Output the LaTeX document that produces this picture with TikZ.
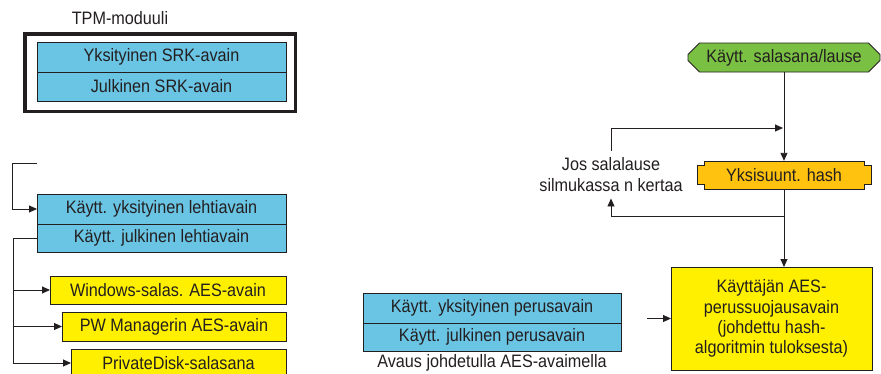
\documentclass[tikz,border=0pt]{standalone}
\usepackage{fontspec}
\setmainfont{Liberation Sans}[FakeStretch=0.9]
\usepackage{tikz}
\usetikzlibrary{positioning}
\usetikzlibrary{calc}
\usetikzlibrary{shapes.misc}
\usetikzlibrary{arrows.meta}
\definecolor{keyblue}{RGB}{106,196,228}
\definecolor{keyyellow}{RGB}{255,240,0}
\definecolor{hashorange}{RGB}{255,194,15}
\definecolor{pwgreen}{RGB}{122,193,67}
\definecolor{edge}{RGB}{35,31,32}
\tikzset{
    keybox/.style={draw=edge, line width=0.9pt, fill=#1, inner sep=0pt, outer sep=0pt},
    arr/.style={-{Triangle[length=8pt,width=7pt]}, draw=edge, line width=0.9pt},
    ln/.style={draw=edge, line width=0.9pt}
}

\begin{document}
\begin{tikzpicture}[x=1pt,y=-1pt,font=\fontsize{18}{20.3}\selectfont,text=edge]
\clip (0,0) rectangle (881,373);
% TPM-moduuli
\node at (120,18) (tpmlbl) {TPM-moduuli};
\node at (160,72.5)[draw=edge, line width=3.5pt, minimum width=270.5, minimum height=77.5] (tpm) {};
\node at (161.5,57)[keybox=keyblue, minimum width=249, minimum height=30] (srkpriv) {Yksityinen SRK-avain};
\node[keybox=keyblue, minimum width=249, minimum height=29, below=0pt of srkpriv] (srkpub) {Julkinen SRK-avain};
% lehtiavaimet
\node at (161.5,209)[keybox=keyblue, minimum width=249, minimum height=30] (lpriv) {Käytt. yksityinen lehtiavain};
\node[keybox=keyblue, minimum width=249, minimum height=28, below=0pt of lpriv] (lpub) {Käytt. julkinen lehtiavain};
\foreach \k/\x/\y/\w/\h/\t in {winkey/168/290/236/28/{Windows-salas. AES-avain}, pwmkey/174/326.5/224/29/{PW Managerin AES-avain}, pdkey/178.5/363/215/28/{PrivateDisk-salasana}}{
    \node at (\x,\y)[keybox=keyyellow, minimum width=\w, minimum height=\h] (\k) {\t};
}
\coordinate (lfree) at (37,163);
\draw[arr] (lfree) -- ++(-25,0) |- (lpriv.west);
\draw[ln] (lpub.west) -- ++(-24,0) coordinate (bus) -- (bus |- pdkey.west);
\foreach \k in {winkey,pwmkey,pdkey}{
    \draw[arr] (bus |- \k.west) -- (\k.west);
}
% salasana ja hash
\node at (784,57.5)[chamfered rectangle, chamfered rectangle xsep=8pt, draw=edge, line width=0.9pt, fill=pwgreen, minimum width=192, minimum height=29, inner sep=0pt] (pass) {Käytt. salasana/lause};
\filldraw[draw=edge, line width=0.9pt, fill=hashorange] (704,161) -- (864,161) -- (864,165) -- (871,165) -- (871,184) -- (864,184) -- (864,189) -- (704,189) -- (704,184) -- (697,184) -- (697,165) -- (704,165) -- cycle;
\node at (784,175)[minimum width=174, minimum height=28, inner sep=0pt] (hash) {Yksisuunt. hash};
\node at (611,174.5)[align=center, inner xsep=0pt, inner ysep=7pt] (jos) {Jos salalause\\silmukassa n kertaa};
\coordinate (loopin) at (783,128);
\draw[arr] (pass.south) -- (hash.north);
\draw[arr] (jos.north) |- (loopin);
% AES-perussuojausavain
\node at (771.5,318.5)[keybox=keyyellow, minimum width=201, minimum height=103, align=center] (aes) {Käyttäjän AES-\\perussuojausavain\\(johdettu hash-\\algoritmin tuloksesta)};
\draw[arr] (hash.south) -- (hash.south |- aes.north);
\coordinate (loopout) at ($(hash.south)+(0,27)$);
\draw[arr] (loopout) -| (jos.south);
\coordinate (aesin) at (647,318.5);
\draw[arr] (aesin) -- (aes.west);
% perusavaimet
\node at (492,308)[keybox=keyblue, minimum width=258, minimum height=30] (ppriv) {Käytt. yksityinen perusavain};
\node[keybox=keyblue, minimum width=258, minimum height=28, below=0pt of ppriv] (ppub) {Käytt. julkinen perusavain};
\node[below=0pt of ppub] (avaus) {Avaus johdetulla AES-avaimella};
\end{tikzpicture}
\end{document}
